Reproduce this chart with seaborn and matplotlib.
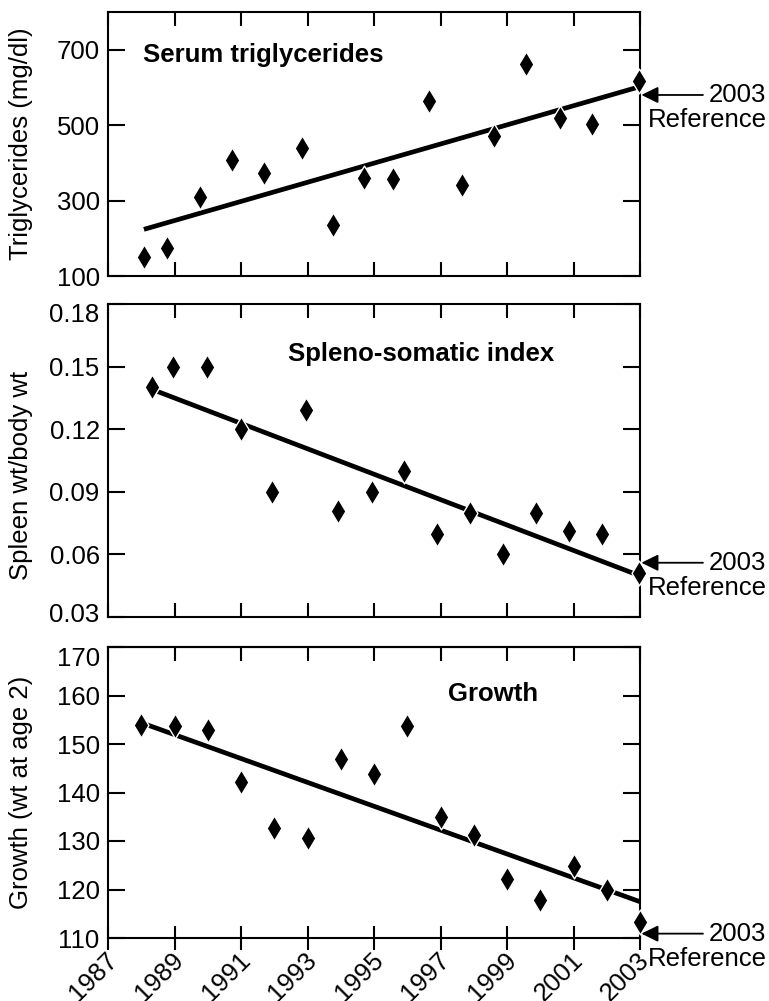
import numpy as np
import pandas as pd
import matplotlib
matplotlib.use("Agg")
import matplotlib.pyplot as plt
from matplotlib.transforms import ScaledTranslation
import seaborn as sns

# ---------------- data ----------------
tg_years = [1988.08, 1988.76, 1989.77, 1990.74, 1991.70, 1992.83, 1993.78, 1994.71,
            1995.58, 1996.66, 1997.64, 1998.62, 1999.56, 2000.60, 2001.56, 2002.98]
tg_values = [151, 173, 309, 408, 372, 439, 235, 359, 357, 563, 342, 470, 663, 518, 503, 616]

ssi_years = [1988.31, 1988.96, 1989.97, 1990.99, 1991.94, 1992.95, 1993.93, 1994.93,
             1995.90, 1996.88, 1997.89, 1998.87, 1999.86, 2000.86, 2001.85, 2002.98]
ssi_values = [0.140, 0.150, 0.150, 0.120, 0.090, 0.129, 0.081, 0.090,
              0.100, 0.070, 0.080, 0.060, 0.080, 0.071, 0.070, 0.051]

growth_years = [1988, 1989, 1990, 1991, 1992, 1993, 1994, 1995,
                1996, 1997, 1998, 1999, 2000, 2001, 2002, 2003]
growth_values = [154.0, 153.8, 152.8, 142.1, 132.7, 130.7, 147.0, 143.8,
                 153.8, 134.9, 131.2, 122.2, 117.9, 124.8, 120.0, 113.3]

panel_titles = ["Serum triglycerides", "Spleno-somatic index", "Growth"]
y_labels = ["Triglycerides (mg/dl)", "Spleen wt/body wt", "Growth (wt at age 2)"]
y_ticks = [[100, 300, 500, 700],
           [0.03, 0.06, 0.09, 0.12, 0.15, 0.18],
           [110, 120, 130, 140, 150, 160, 170]]
y_tick_labels = [["100", "300", "500", "700"],
                 ["0.03", "0.06", "0.09", "0.12", "0.15", "0.18"],
                 ["110", "120", "130", "140", "150", "160", "170"]]
y_limits = [(100, 800), (0.03, 0.18), (110, 170)]
x_ticks = [1987, 1989, 1991, 1993, 1995, 1997, 1999, 2001, 2003]
x_tick_labels = ["1987", "1989", "1991", "1993", "1995", "1997", "1999", "2001", "2003"]
reference_year = 2003
reference_arrow_y = [580, 0.056, 110.9]
annot_text = ["2003", "Reference"]

# ---------------- style ----------------
sns.set_theme(style="ticks")
plt.rcParams["font.family"] = ["Liberation Sans", "DejaVu Sans"]
for k in ["text.color", "axes.labelcolor", "xtick.color", "ytick.color", "axes.edgecolor"]:
    plt.rcParams[k] = "black"
FS = 18.5
plt.rcParams["axes.linewidth"] = 1.5

fig = plt.figure(figsize=(7.69, 10.01), dpi=100)
W, H = 769, 1001
left, right = 108, 640
panel_px = [(12, 276), (304, 617), (647, 938)]
axes = []
for top, bot in panel_px:
    axes.append(fig.add_axes([left / W, 1 - bot / H, (right - left) / W, (bot - top) / H]))

datasets = [(tg_years, tg_values), (ssi_years, ssi_values), (growth_years, growth_values)]
title_pos = [(0.066, 0.837, "left"), (0.588, 0.840, "center"), (0.723, 0.840, "center")]
ylabel_y = [0.5, 0.451, 0.5]
# small vertical nudges (pixels, + = down) of end tick labels so they do not collide
label_nudge = [{}, {"0.18": 9, "0.03": -5}, {"170": 9}]

for i, ax in enumerate(axes):
    xs, ys = datasets[i]
    df = pd.DataFrame({"year": xs, "value": ys})
    sns.regplot(data=df, x="year", y="value", ax=ax, ci=None, truncate=True,
                marker="d", color="black",
                scatter_kws=dict(s=160, alpha=1, edgecolor="white", linewidths=1.0,
                                 zorder=3, clip_on=False),
                line_kws=dict(linewidth=3.4, color="black", zorder=2,
                              solid_capstyle="butt"))
    ax.set_xlim(1987, 2003)
    ax.set_ylim(*y_limits[i])
    ax.set_xticks(x_ticks)
    ax.set_yticks(y_ticks[i])
    ax.set_xlabel("")
    ax.set_ylabel(y_labels[i], fontsize=FS)
    ax.yaxis.set_label_coords(-0.141, ylabel_y[i])
    for sp in ax.spines.values():
        sp.set_visible(True)
        sp.set_linewidth(1.5)
        sp.set_color("black")
    ax.tick_params(axis="y", direction="in", left=True, right=True, length=12,
                   width=1.5, colors="black", pad=6)
    ax.set_yticklabels(y_tick_labels[i], fontsize=FS)
    for lab in ax.get_yticklabels():
        dy = label_nudge[i].get(lab.get_text())
        if dy:
            lab.set_transform(lab.get_transform() +
                              ScaledTranslation(0, -dy / 100, fig.dpi_scale_trans))
    tx, ty, ha = title_pos[i]
    ax.text(tx, ty, panel_titles[i], transform=ax.transAxes, fontsize=FS,
            fontweight="bold", ha=ha, va="center")

    # reference annotation
    ax.annotate(annot_text[0], xy=(reference_year, reference_arrow_y[i]),
                xytext=(69, 0), textcoords="offset pixels",
                ha="left", va="center", fontsize=FS, annotation_clip=False,
                arrowprops=dict(arrowstyle="-|>,head_length=0.55,head_width=0.27",
                                color="black", lw=1.3, shrinkA=2, shrinkB=1))
    ax.annotate(annot_text[1], xy=(reference_year, reference_arrow_y[i]),
                xytext=(8, -25), textcoords="offset pixels",
                ha="left", va="center", fontsize=FS, annotation_clip=False)

    if i < 2:
        ax.tick_params(axis="x", direction="in", top=True, bottom=True, length=10,
                       width=1.5, labelbottom=False)
    else:
        ax.tick_params(axis="x", direction="inout", top=False, bottom=True, length=17,
                       width=1.5, colors="black", pad=1)
        ax.set_xticklabels(x_tick_labels, fontsize=FS, rotation=45, ha="right",
                           va="top", rotation_mode="anchor")
        off = ScaledTranslation(-3 / 100, 3 / 100, fig.dpi_scale_trans)
        for lab in ax.get_xticklabels():
            lab.set_transform(lab.get_transform() + off)
        sec = ax.secondary_xaxis("top")
        sec.set_xticks(x_ticks)
        sec.tick_params(axis="x", direction="in", length=10, width=1.5, labeltop=False)
        sec.spines["top"].set_linewidth(1.5)

fig.savefig("out.png", dpi=100)
